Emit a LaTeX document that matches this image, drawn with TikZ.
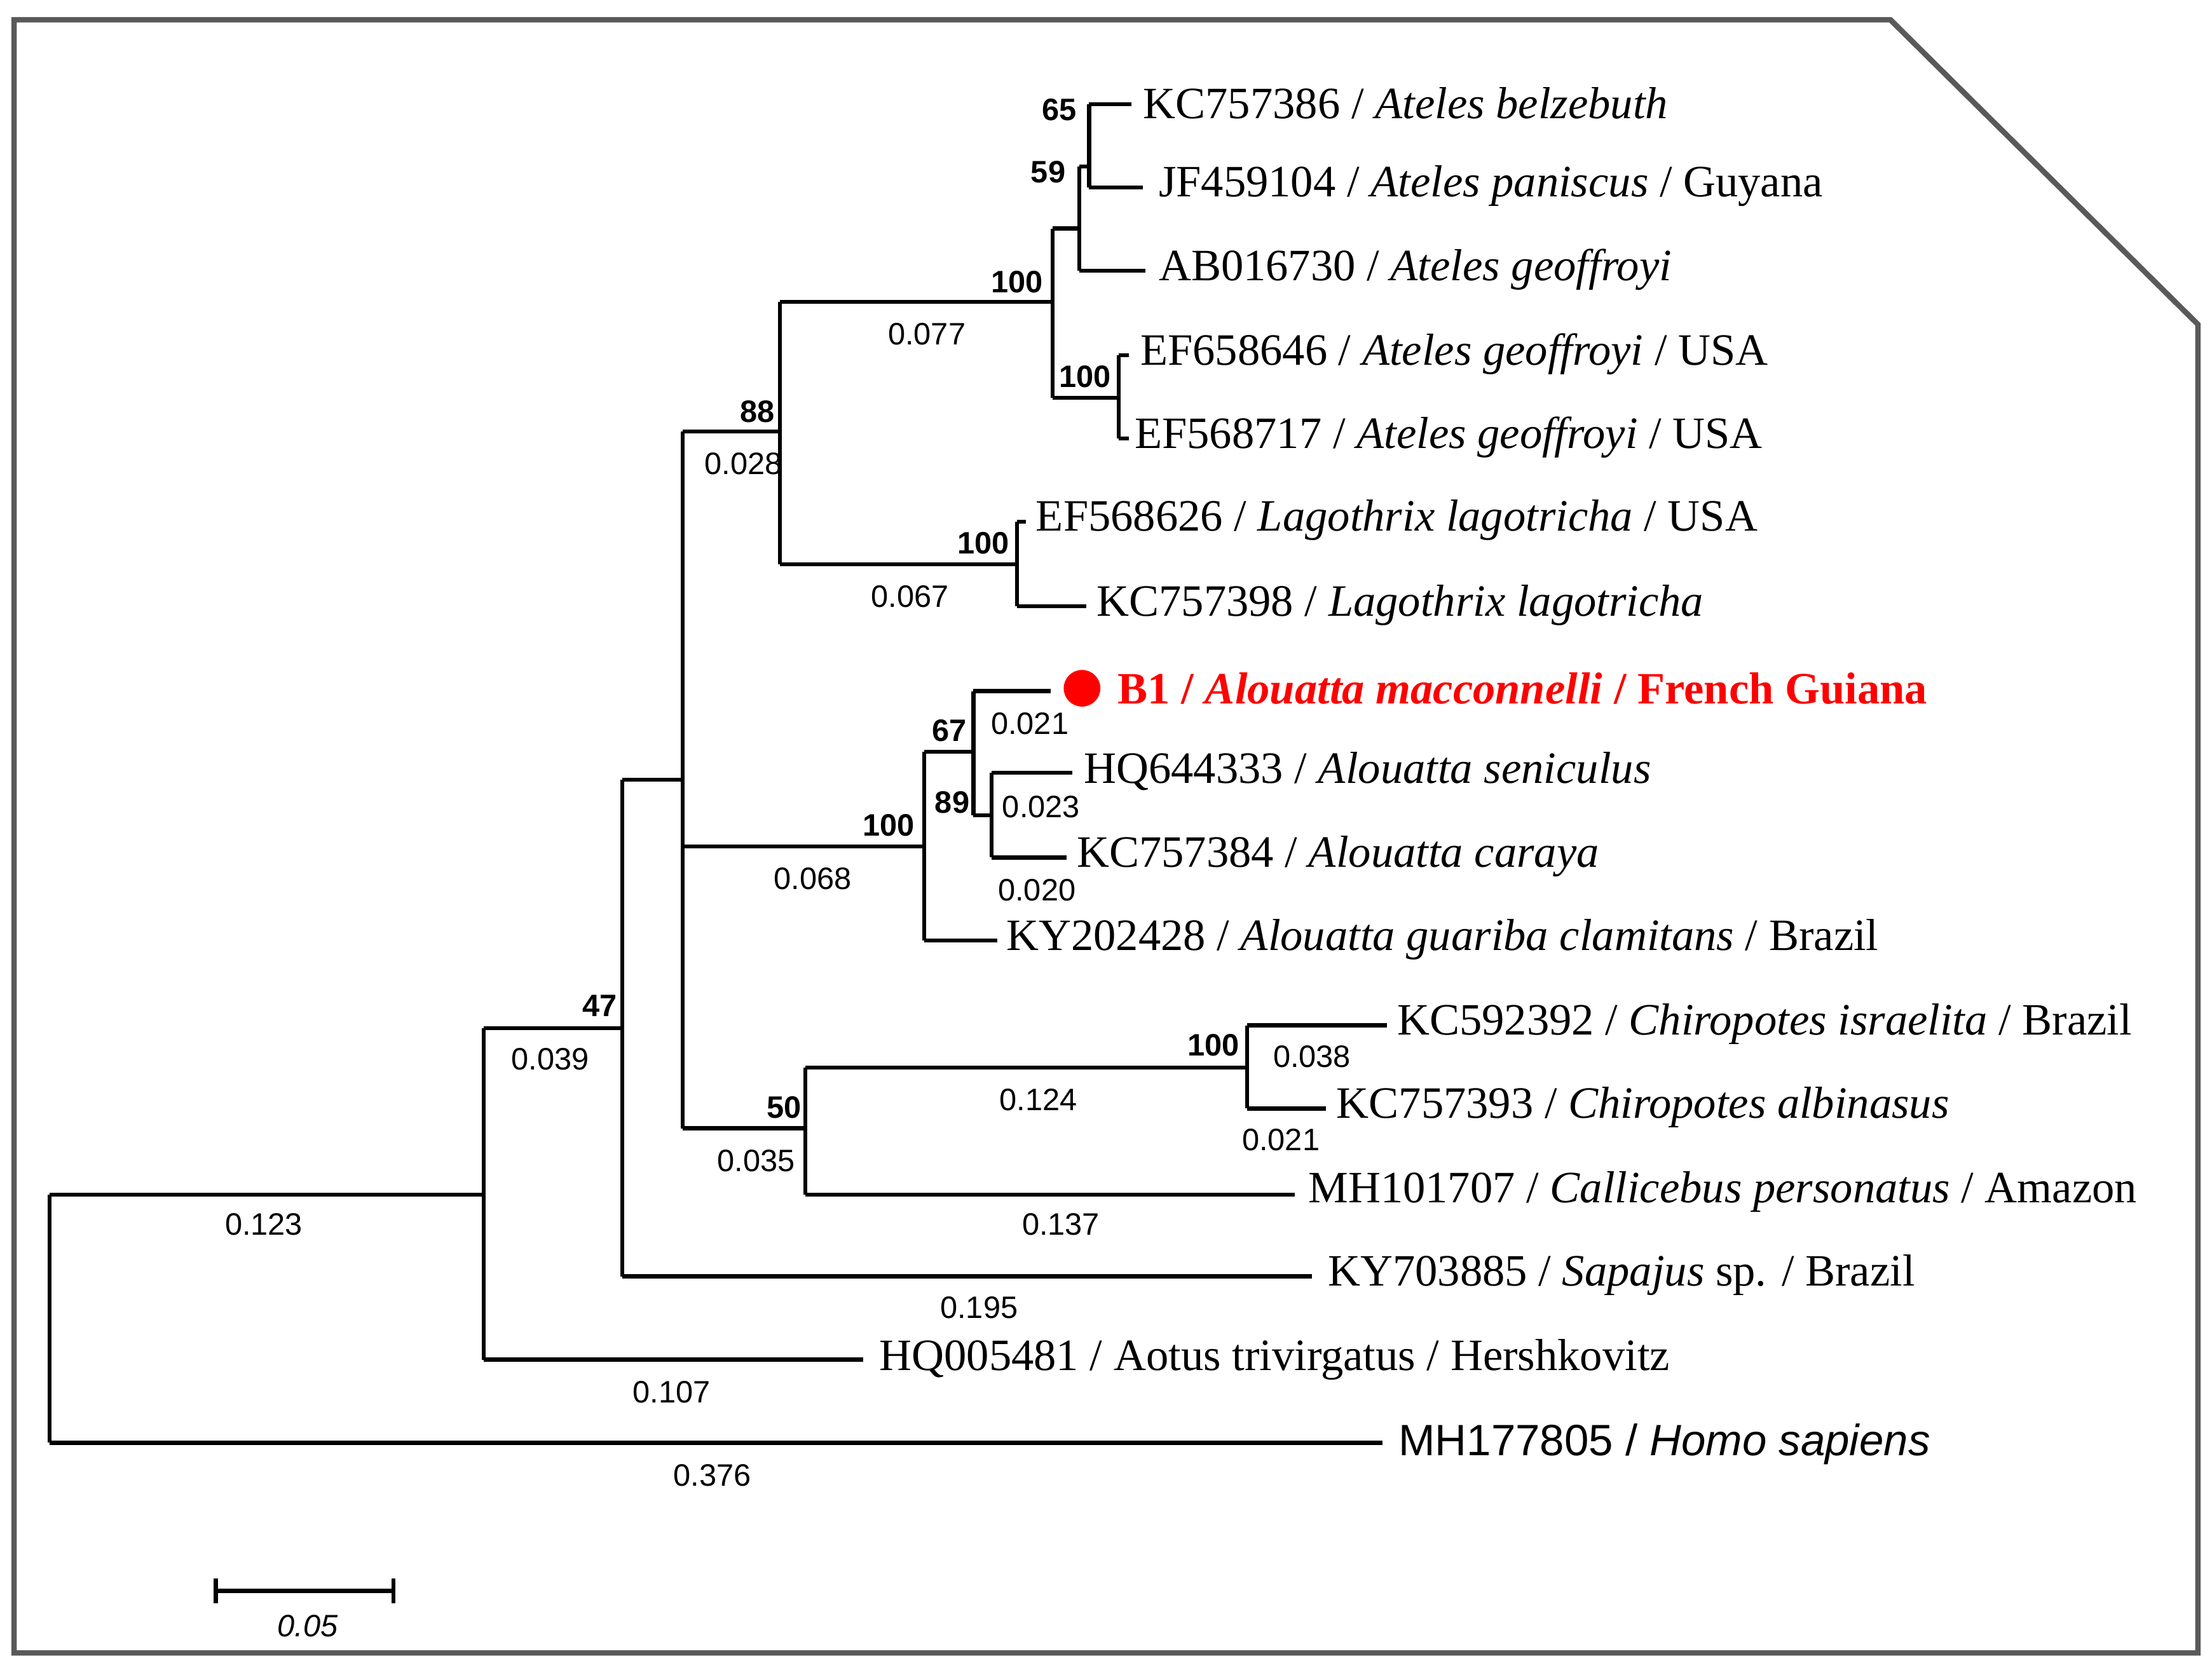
\documentclass[tikz,border=0pt]{standalone}
\usepackage{fontspec}
\setmainfont{Liberation Serif}
\newfontfamily\arialf{Liberation Sans}
\begin{document}
\begin{tikzpicture}[x=0.02cm,y=-0.02cm,line width=1.6pt,
 lab/.style={anchor=west,inner sep=0pt,font=\fontsize{18.1}{21}\selectfont},
 bs/.style={font=\arialf\bfseries\fontsize{12.5}{14}\selectfont,inner sep=0pt},
 bl/.style={font=\arialf\fontsize{12.5}{14}\selectfont,inner sep=0pt}]
\useasboundingbox (0,0) rectangle (1568,1184);
\draw[gray!70!black,line width=2.2pt] (10,14) -- (1340,14) -- (1558,230) -- (1558,1172) -- (10,1172) -- cycle;
% tree
\draw (35,847) -- (35,1023);
\draw (35,847) -- (343,847);
\draw (35,1023) -- (980,1023);
\draw (343,729) -- (343,964);
\draw (343,964) -- (612,964);
\draw (343,729) -- (441,729);
\draw (441,553) -- (441,905);
\draw (441,905) -- (930,905);
\draw (441,553) -- (484,553);
\draw (484,306) -- (484,800);
\draw (484,306) -- (553,306);
\draw (484,600) -- (655,600);
\draw (484,800) -- (571,800);
\draw (553,214) -- (553,400);
\draw (553,214) -- (746,214);
\draw (553,400) -- (721,400);
\draw (746,162) -- (746,282);
\draw (746,162) -- (765,162);
\draw (746,282) -- (793,282);
\draw (765,118) -- (765,192);
\draw (765,192) -- (812,192);
\draw (765,118) -- (772,118);
\draw (772,74) -- (772,133);
\draw (772,74) -- (802,74);
\draw (772,133) -- (810,133);
\draw (793,252) -- (793,311);
\draw (793,252) -- (800,252);
\draw (793,311) -- (800,311);
\draw (721,370) -- (721,430);
\draw (721,370) -- (727,370);
\draw (721,430) -- (770,430);
\draw (655,533) -- (655,667);
\draw (655,533) -- (690,533);
\draw (655,667) -- (707,667);
\draw (690,490) -- (690,578);
\draw (690,490) -- (745,490);
\draw (690,578) -- (703,578);
\draw (703,548) -- (703,608);
\draw (703,548) -- (760,548);
\draw (703,608) -- (756,608);
\draw (571,757) -- (571,847);
\draw (571,757) -- (884,757);
\draw (571,847) -- (918,847);
\draw (884,727) -- (884,786);
\draw (884,727) -- (983,727);
\draw (884,786) -- (940,786);
% labels
\node[lab] (t1) at (809,73) {KC757386 / \textit{Ateles belzebuth}};
\node[lab] (t2) at (820,132) {JF459104 / \textit{Ateles paniscus} / Guyana};
\node[lab] (t3) at (820,191) {AB016730 / \textit{Ateles geoffroyi}};
\node[lab] (t4) at (807,251) {EF658646 / \textit{Ateles geoffroyi} / USA};
\node[lab] (t5) at (803,310) {EF568717 / \textit{Ateles geoffroyi} / USA};
\node[lab] (t6) at (733,369) {EF568626 / \textit{Lagothrix lagotricha} / USA};
\node[lab] (t7) at (776,429) {KC757398 / \textit{Lagothrix lagotricha}};
\fill[red] (767,488) circle (13);
\node[lab,text=red,font=\bfseries\fontsize{18.1}{21}\selectfont] (t8) at (791,488) {B1 / \textit{Alouatta macconnelli} / French Guiana};
\node[lab] (t9) at (767,547) {HQ644333 / \textit{Alouatta seniculus}};
\node[lab] (t10) at (762,607) {KC757384 / \textit{Alouatta caraya}};
\node[lab] (t11) at (712,666) {KY202428 / \textit{Alouatta guariba clamitans} / Brazil};
\node[lab] (t12) at (989,726) {KC592392 / \textit{Chiropotes israelita} / Brazil};
\node[lab] (t13) at (946,785) {KC757393 / \textit{Chiropotes albinasus}};
\node[lab] (t14) at (926,845) {MH101707 / \textit{Callicebus personatus} / Amazon};
\node[lab] (t15) at (940,904) {KY703885 / \textit{Sapajus} sp. / Brazil};
\node[lab] (t16) at (622,964) {HQ005481 / Aotus trivirgatus / Hershkovitz};
\node[lab,font=\arialf\fontsize{17.7}{21}\selectfont] (t17) at (990,1024) {MH177805 / \textit{Homo sapiens}};
% bootstrap
\node[bs] at (751,78) {65};
\node[bs] at (743,122) {59};
\node[bs] at (721,200) {100};
\node[bs] at (769,267) {100};
\node[bs] at (537,292) {88};
\node[bs] at (697,385) {100};
\node[bs] at (673,518) {67};
\node[bs] at (675,569) {89};
\node[bs] at (630,585) {100};
\node[bs] at (425,713) {47};
\node[bs] at (860,741) {100};
\node[bs] at (556,785) {50};
% branch lengths
\node[bl] at (657,237) {0.077};
\node[bl] at (527,329) {0.028};
\node[bl] at (645,423) {0.067};
\node[bl] at (730,513) {0.021};
\node[bl] at (738,572) {0.023};
\node[bl] at (735,631) {0.020};
\node[bl] at (576,623) {0.068};
\node[bl] at (390,751) {0.039};
\node[bl] at (930,749) {0.038};
\node[bl] at (736,780) {0.124};
\node[bl] at (908,808) {0.021};
\node[bl] at (536,823) {0.035};
\node[bl] at (187,868) {0.123};
\node[bl] at (752,868) {0.137};
\node[bl] at (694,927) {0.195};
\node[bl] at (476,987) {0.107};
\node[bl] at (505,1046) {0.376};
% scale bar
\draw (153,1128) -- (279,1128);
\draw (153,1119) -- (153,1137);
\draw (279,1119) -- (279,1137);
\node[bl,font=\arialf\itshape\fontsize{12.5}{14}\selectfont] at (218,1153) {0.05};
\end{tikzpicture}
\end{document}
